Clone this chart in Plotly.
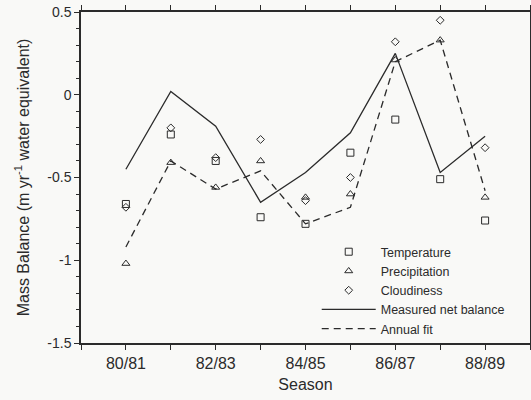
import plotly.graph_objects as go

seasons = ["80/81", "81/82", "82/83", "83/84", "84/85", "85/86", "86/87", "87/88", "88/89"]
x_index = list(range(len(seasons)))

measured = [-0.45, 0.02, -0.19, -0.65, -0.47, -0.23, 0.25, -0.47, -0.25]
annual_fit = [-0.92, -0.40, -0.57, -0.46, -0.78, -0.68, 0.20, 0.33, -0.58]
temperature = [-0.66, -0.24, -0.40, -0.74, -0.78, -0.35, -0.15, -0.51, -0.76]
precipitation = [-1.02, -0.41, -0.56, -0.40, -0.62, -0.60, 0.21, 0.33, -0.62]
cloudiness = [-0.68, -0.20, -0.38, -0.27, -0.64, -0.50, 0.32, 0.45, -0.32]

tick_positions = [0, 2, 4, 6, 8]
tick_labels = ["80/81", "82/83", "84/85", "86/87", "88/89"]

ink = "#2b2b2b"
bg = "#f9f9f7"
font_family = "Arial, Liberation Sans, sans-serif"

fig = go.Figure()

marker_line = dict(color=ink, width=1)
fig.add_trace(go.Scatter(x=x_index, y=temperature, mode="markers", name="Temperature",
                         marker=dict(symbol="square-open", size=7, color=ink, line=marker_line)))
fig.add_trace(go.Scatter(x=x_index, y=precipitation, mode="markers", name="Precipitation",
                         marker=dict(symbol="triangle-up-open", size=7, color=ink, line=marker_line)))
fig.add_trace(go.Scatter(x=x_index, y=cloudiness, mode="markers", name="Cloudiness",
                         marker=dict(symbol="diamond-open", size=6, color=ink, line=marker_line)))
fig.add_trace(go.Scatter(x=x_index, y=measured, mode="lines", name="Measured net balance",
                         line=dict(color=ink, width=1.3)))
fig.add_trace(go.Scatter(x=x_index, y=annual_fit, mode="lines", name="Annual fit",
                         line=dict(color=ink, width=1.3, dash="7px,5px")))

fig.update_layout(
    width=531, height=400,
    margin=dict(l=81, r=1, t=12, b=57, autoexpand=False),
    paper_bgcolor=bg, plot_bgcolor=bg,
    font=dict(family=font_family, color=ink, size=15),
    showlegend=True,
    legend=dict(x=0.525, y=0.32, xanchor="left", yanchor="top",
                bgcolor="rgba(0,0,0,0)", font=dict(size=12.5, color=ink),
                tracegroupgap=0, itemwidth=54),
    xaxis=dict(
        range=[-1, 9], tickmode="array", tickvals=tick_positions, ticktext=tick_labels,
        showgrid=False, zeroline=False, showline=True, linecolor=ink, linewidth=1.5,
        mirror="allticks", ticks="outside", ticklen=5, tickcolor=ink, tickwidth=1.3,
        tickfont=dict(size=16), automargin=False,
        minor=dict(dtick=1, tick0=0, ticks="outside", ticklen=5, tickcolor=ink, tickwidth=1.3, showgrid=False),
        title=dict(text="Season", font=dict(size=16), standoff=8),
    ),
    yaxis=dict(
        range=[-1.5, 0.5], tickmode="array", tickvals=[-1.5, -1, -0.5, 0, 0.5],
        ticktext=["-1.5", "-1", "-0.5", "0", "0.5"],
        showgrid=False, zeroline=False, showline=True, linecolor=ink, linewidth=1.5,
        mirror="allticks", ticks="outside", ticklen=5, tickcolor=ink, tickwidth=1.3,
        tickfont=dict(size=14), automargin=False,
        minor=dict(dtick=0.1, tick0=0, ticks="outside", ticklen=3, tickcolor=ink, tickwidth=1, showgrid=False),
        title=dict(text="Mass Balance (m yr<sup>-1</sup> water equivalent)", font=dict(size=16), standoff=14),
    ),
)

fig.write_html("out.html", config={"displayModeBar": False},
               post_script="document.body.style.margin='0';document.body.style.overflow='hidden';")
